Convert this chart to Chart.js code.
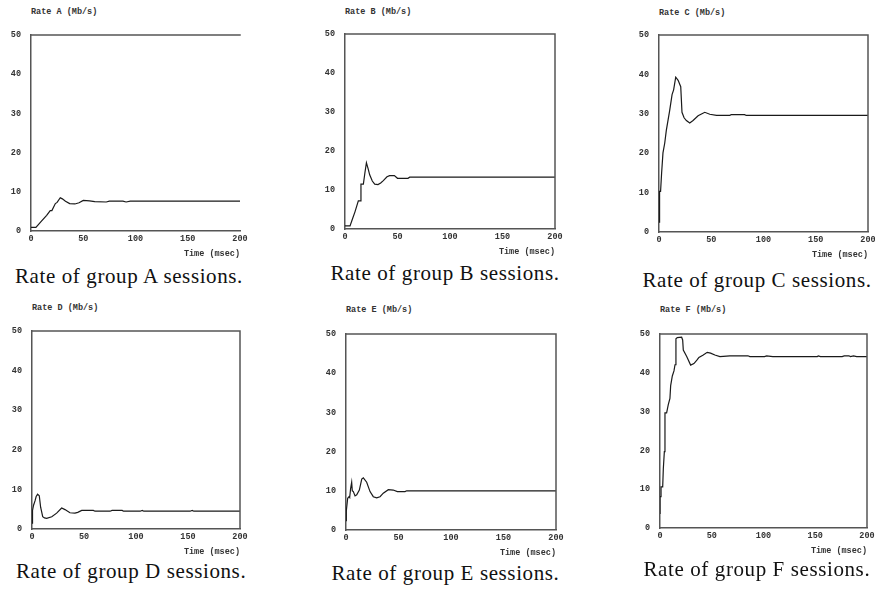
<!DOCTYPE html>
<html>
<head>
<meta charset="utf-8">
<script src="https://cdn.jsdelivr.net/npm/chart.js@4"></script>
<style>
  html, body { margin:0; padding:0; background:#fff; overflow:hidden; width:875px; height:592px; }
  canvas { position:absolute; }
  .ttl { position:absolute; font-family:"Liberation Mono", monospace; font-weight:bold; font-size:8.5px; line-height:10px; color:#333; white-space:nowrap; }
  .cap { position:absolute; font-family:"Liberation Serif", serif; font-size:21px; line-height:20px; letter-spacing:0.6px; color:#111; white-space:nowrap; }
</style>
</head>
<body>
<script>
// ---- tick labels ----
const xTicks = [0, 50, 100, 150, 200];
const yTicks = [0, 10, 20, 30, 40, 50];

// ---- series: time (msec) and rate (Mb/s) ----
const tA = [0, 4.7, 10, 15, 18.4, 20, 23.3, 25, 28, 30, 33, 37, 42, 46, 50, 56, 61, 72, 75, 88, 91, 95, 200];
const rA = [0.9, 0.9, 2.5, 4.0, 5.2, 5.2, 7.0, 7.3, 8.5, 8.2, 7.6, 7.0, 6.9, 7.2, 7.8, 7.7, 7.5, 7.4, 7.6, 7.6, 7.4, 7.6, 7.6];

const tB = [0, 4.8, 7, 9.5, 12.7, 14.3, 15.2, 17.5, 19, 20.4, 22, 23.5, 26, 28.3, 31.4, 34, 36.5, 40, 42.5, 47, 50, 60, 61.6, 200];
const rB = [0.8, 0.8, 2.5, 4.4, 7.2, 7.2, 11.5, 11.5, 14.5, 17.0, 15.5, 13.9, 12.3, 11.5, 11.4, 11.8, 12.4, 13.4, 13.7, 13.7, 13.0, 13.0, 13.3, 13.3];

const tC = [0, 0.3, 0.8, 1.5, 2.5, 3.8, 5.5, 7, 10.2, 12.5, 14, 16, 18.3, 20.8, 22, 24, 26.2, 29.4, 32.6, 37.4, 43.8, 48.6, 55, 67.7, 69, 81.9, 83.5, 200];
const rC = [2.5, 5.8, 10.3, 10.3, 15, 20.1, 22.6, 25.8, 30.8, 34.9, 36.1, 39.3, 38.5, 36.9, 30.4, 29.0, 28.3, 27.7, 28.3, 29.5, 30.4, 29.9, 29.6, 29.6, 29.8, 29.8, 29.6, 29.6];

const tD = [0, 0.5, 1.5, 2.9, 4, 5.4, 7, 8.3, 10.3, 12, 14.1, 19, 23.7, 28.5, 31.7, 36.5, 41.3, 44, 47.8, 59, 60.6, 75, 77, 86.7, 88, 104, 106, 107.5, 152, 154, 155.6, 200];
const rD = [1.5, 4.7, 6.0, 7.1, 8.2, 8.8, 8.4, 5.5, 3.1, 2.8, 2.7, 3.1, 4.0, 5.3, 4.9, 4.1, 4.0, 4.2, 4.7, 4.7, 4.5, 4.5, 4.7, 4.7, 4.5, 4.5, 4.7, 4.5, 4.5, 4.7, 4.5, 4.5];

const tE = [0, 0.3, 1.6, 2.9, 3.5, 4.4, 5.4, 6, 7, 8.6, 10.2, 12.7, 15, 16.5, 19.7, 22.9, 26, 29.2, 32.4, 35.5, 40.3, 45, 48.9, 56.2, 57.8, 200];
const rE = [2.4, 4.85, 8.1, 8.5, 8.3, 10.6, 12.2, 10.0, 9.8, 8.7, 9.0, 10.2, 13.0, 13.3, 12.2, 9.8, 8.5, 8.2, 8.5, 9.4, 10.3, 10.2, 9.8, 9.8, 10.0, 10.0];

const tF = [0, 0, 1, 1, 2.6, 3.2, 4.2, 4.8, 4.8, 6.4, 8, 9.6, 10.3, 11.9, 13.5, 14.5, 15.4, 15.4, 16.7, 20.9, 21.9, 22.5, 25.8, 29.6, 32.8, 36, 37.6, 41.8, 45.6, 48.9, 53, 57.9, 67.5, 85, 86.8, 101, 103, 109, 152, 153, 155, 176, 178, 182.5, 184, 187, 190, 200];
const rF = [3.6, 8.1, 8.1, 10.6, 10.6, 15.2, 19.7, 24.3, 29.7, 29.7, 31.8, 33.4, 36.7, 39.2, 40.5, 42.1, 42.1, 48.8, 49.1, 49.2, 48.5, 45.9, 44.2, 42.0, 42.4, 43.4, 44.0, 44.6, 45.3, 45.1, 44.6, 44.2, 44.4, 44.4, 44.2, 44.2, 44.4, 44.2, 44.2, 44.4, 44.2, 44.2, 44.4, 44.4, 44.2, 44.4, 44.2, 44.2];

const groups = ['A', 'B', 'C', 'D', 'E', 'F'];
const times = [tA, tB, tC, tD, tE, tF];
const rates = [rA, rB, rC, rD, rE, rF];

// ---- layout (plot area boxes, title and caption placement) ----
const layout = [
  { L: 31,  T: 28,  R: 240, B: 231, rightBorder: false, ty: 12,   capX: 15,  capBase: 283.5 },
  { L: 345, T: 27,  R: 555, B: 229, rightBorder: true,  ty: 12.3, capX: 330.5, capBase: 280 },
  { L: 659, T: 28,  R: 868, B: 232, rightBorder: true,  ty: 12.7, capX: 642.5, capBase: 287 },
  { L: 32,  T: 324, R: 240, B: 529, rightBorder: true,  ty: 308.3, capX: 16,  capBase: 578.3 },
  { L: 346, T: 327, R: 556, B: 530, rightBorder: true,  ty: 310, capX: 331.5, capBase: 580 },
  { L: 660, T: 327, R: 867, B: 528, rightBorder: true,  ty: 310, capX: 643.5, capBase: 576 }
];

const tickFont = { family: '"Liberation Mono", monospace', size: 8.5, weight: 'bold', lineHeight: 1.2 };
const textColor = '#333';
const axisColor = '#555';
const YW = 30, XH = 30, PT = 8, PR = 12;

const boxPlugin = {
  id: 'boxFrame',
  afterDraw(chart, args, opts) {
    const { ctx, chartArea: a } = chart;
    ctx.save();
    ctx.strokeStyle = axisColor;
    ctx.lineWidth = 1.5;
    ctx.beginPath();
    ctx.moveTo(a.left - 0.75, a.top);
    ctx.lineTo(a.right + 0.75, a.top);
    if (opts.right) {
      ctx.moveTo(a.right, a.top);
      ctx.lineTo(a.right, a.bottom);
    }
    ctx.stroke();
    ctx.restore();
  }
};

groups.forEach((g, i) => {
  const p = layout[i];
  const w = (p.R - p.L) + YW + PR;
  const h = (p.B - p.T) + PT + XH;
  const cv = document.createElement('canvas');
  cv.width = w; cv.height = h;
  cv.style.left = (p.L - YW) + 'px';
  cv.style.top = (p.T - PT) + 'px';
  cv.style.width = w + 'px';
  cv.style.height = h + 'px';
  document.body.appendChild(cv);

  const ttl = document.createElement('div');
  ttl.className = 'ttl';
  ttl.textContent = 'Rate ' + g + ' (Mb/s)';
  ttl.style.left = p.L + 'px';
  ttl.style.top = (p.ty - 5) + 'px';
  document.body.appendChild(ttl);

  const cap = document.createElement('div');
  cap.className = 'cap';
  cap.textContent = 'Rate of group ' + g + ' sessions.';
  cap.style.left = p.capX + 'px';
  cap.style.top = (p.capBase - 17.2) + 'px';
  document.body.appendChild(cap);

  new Chart(cv, {
    type: 'line',
    data: {
      datasets: [{
        data: times[i].map((t, k) => ({ x: t, y: rates[i][k] })),
        borderColor: '#1a1a1a',
        borderWidth: 1.2,
        pointRadius: 0,
        tension: 0,
        fill: false
      }]
    },
    options: {
      responsive: false,
      animation: false,
      events: [],
      layout: { padding: { top: PT, right: PR, left: 0, bottom: 0 } },
      plugins: {
        legend: { display: false },
        tooltip: { enabled: false },
        boxFrame: { right: p.rightBorder }
      },
      scales: {
        x: {
          type: 'linear', min: 0, max: 200,
          afterBuildTicks: s => { s.ticks = xTicks.map(v => ({ value: v })); },
          grid: { display: false, drawTicks: false },
          border: { display: true, color: axisColor, width: 1.5 },
          ticks: { padding: 2.5, font: tickFont, color: textColor, maxRotation: 0, autoSkip: false },
          title: { display: true, text: 'Time (msec)', align: 'end', padding: { top: 0, bottom: 2 }, font: tickFont, color: textColor },
          afterFit: s => { s.height = XH; }
        },
        y: {
          type: 'linear', min: 0, max: 50,
          afterBuildTicks: s => { s.ticks = yTicks.map(v => ({ value: v })); },
          grid: { display: false, drawTicks: false },
          border: { display: true, color: axisColor, width: 1.5 },
          ticks: { padding: 10, font: tickFont, color: textColor },
          afterFit: s => { s.width = YW; }
        }
      }
    },
    plugins: [boxPlugin]
  });
});
</script>
</body>
</html>
